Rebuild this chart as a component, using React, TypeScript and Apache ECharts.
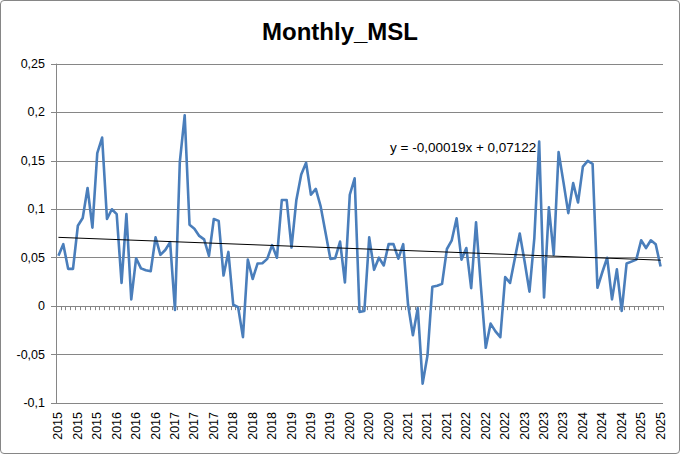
import { useEffect, useRef } from 'react'
import * as echarts from 'echarts'

const FONT = '"Liberation Sans", Arial, sans-serif'

// monthly values, Jan 2015 .. May 2025
const startYear = 2015
const msl = [
  0.052, 0.064, 0.0385, 0.0385, 0.083, 0.091, 0.122, 0.081, 0.158, 0.174, 0.09, 0.1,
  0.095, 0.024, 0.095, 0.007, 0.0495, 0.039, 0.037, 0.036, 0.071, 0.053, 0.058, 0.066,
  -0.004, 0.149, 0.197, 0.084, 0.08, 0.0725, 0.069, 0.052, 0.09, 0.088, 0.0316, 0.056,
  0.0014, -0.001, -0.032, 0.048, 0.028, 0.044, 0.0443, 0.0488, 0.063, 0.05, 0.1096, 0.1096,
  0.0605, 0.1096, 0.136, 0.148, 0.115, 0.121, 0.103, 0.076, 0.0488, 0.0495, 0.0667, 0.0244,
  0.115, 0.132, -0.006, -0.005, 0.071, 0.0375, 0.05, 0.042, 0.064, 0.064, 0.049, 0.064,
  0.0014, -0.03, -0.002, -0.08, -0.051, 0.02, 0.021, 0.023, 0.059, 0.068, 0.0907, 0.048,
  0.06, 0.0186, 0.0866, 0.02, -0.043, -0.018, -0.026, -0.032, 0.03, 0.024, 0.0495, 0.075,
  0.046, 0.015, 0.07, 0.17, 0.009, 0.102, 0.053, 0.159, 0.128, 0.096, 0.127, 0.107,
  0.144, 0.15, 0.147, 0.019, 0.035, 0.05, 0.007, 0.038, -0.005, 0.044, 0.046, 0.048,
  0.068, 0.06, 0.068, 0.064, 0.041,
]
const categories = msl.map((_, i) => String(startYear + Math.floor(i / 12)))

// linear trendline shown by Excel (x = 1..n)
const trendSlope = -0.00019
const trendIntercept = 0.07122
const trendLabel = 'y = -0,00019x + 0,07122'

const yMin = -0.1
const yMax = 0.25
const yStep = 0.05

export default function App() {
  const chartRef = useRef<HTMLDivElement>(null)

  useEffect(() => {
    if (!chartRef.current) return
    const chart = echarts.init(chartRef.current, null, { renderer: 'svg' })

    const n = msl.length
    const trendData = [
      [0, trendSlope * 1 + trendIntercept],
      [n - 1, trendSlope * n + trendIntercept],
    ]

    const option: any = {
      animation: false,
      textStyle: { fontFamily: FONT },
      title: {
        text: 'Monthly_MSL',
        left: 'center',
        top: 13,
        textStyle: { fontSize: 24, fontWeight: 'bold', color: '#000', fontFamily: FONT },
      },
      grid: { left: 55, right: 16, top: 63, bottom: 50, containLabel: false, outerBoundsMode: 'none' },
      xAxis: {
        type: 'category',
        data: categories,
        boundaryGap: true,
        axisLine: { onZero: true, lineStyle: { color: '#868686', width: 1 } },
        axisTick: { show: true, interval: 0, inside: false, length: 4, lineStyle: { color: '#868686' } },
        axisLabel: { interval: 3, rotate: 90, margin: 9, fontSize: 12.5, color: '#000', fontFamily: FONT },
        splitLine: { show: false },
      },
      yAxis: {
        type: 'value',
        min: yMin,
        max: yMax,
        interval: yStep,
        axisLine: { show: true, lineStyle: { color: '#868686' } },
        axisTick: { show: true, length: 5, lineStyle: { color: '#868686' } },
        axisLabel: {
          fontSize: 12.5,
          color: '#000',
          margin: 11,
          fontFamily: FONT,
          formatter: (v: number) => String(Math.round(v * 100) / 100).replace('.', ','),
        },
        splitLine: { show: true, lineStyle: { color: '#868686', width: 1 } },
      },
      graphic: [
        {
          type: 'text',
          left: 389,
          top: 139,
          style: { text: trendLabel, fontSize: 13.5, fill: '#000', font: `13.5px ${FONT}` },
        },
      ],
      series: [
        {
          name: 'Monthly_MSL',
          type: 'line',
          data: msl,
          symbol: 'none',
          lineStyle: { color: '#4A7EBB', width: 2.6, join: 'round' },
          z: 3,
        },
        {
          name: 'trend',
          type: 'line',
          data: trendData,
          symbol: 'none',
          lineStyle: { color: '#000', width: 1 },
          z: 4,
        },
      ],
    }

    chart.setOption(option)
    return () => {
      chart.dispose()
    }
  }, [])

  return (
    <div
      style={{
        position: 'fixed',
        left: 0,
        top: 0,
        width: 680,
        height: 454,
        boxSizing: 'border-box',
        border: '1px solid #868686',
        borderRadius: 4,
        background: '#fff',
      }}
    >
      <div ref={chartRef} style={{ width: 678, height: 452 }} />
    </div>
  )
}
